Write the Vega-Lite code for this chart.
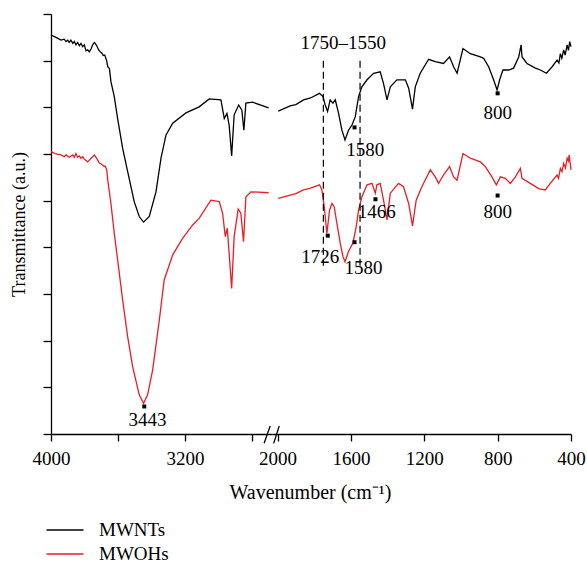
{
  "$schema": "https://vega.github.io/schema/vega-lite/v6.json",
  "padding": {"left": 10, "top": 13, "right": 2, "bottom": 2},
  "background": "white",
  "bounds": "flush",
  "config": {
    "view": {"stroke": null},
    "font": "Liberation Serif",
    "axis": {"domainColor": "black", "tickColor": "black", "domainWidth": 1.3, "tickWidth": 1.3, "labelFont": "Liberation Serif", "titleFont": "Liberation Serif", "labelFontSize": 19, "titleFontSize": 19, "titleFontWeight": "normal", "labelColor": "black", "titleColor": "black", "grid": false, "labelFlush": false},
    "legend": {"labelFont": "Liberation Serif", "labelFontSize": 19, "labelColor": "black"}
  },
  "datasets": {
    "left": [
      {"s":"MWNTs","w":4000,"v":8.55},{"s":"MWNTs","w":3970,"v":8.50},{"s":"MWNTs","w":3940,"v":8.44},{"s":"MWNTs","w":3921,"v":8.46},{"s":"MWNTs","w":3910,"v":8.41},{"s":"MWNTs","w":3900,"v":8.44},{"s":"MWNTs","w":3891,"v":8.39},{"s":"MWNTs","w":3881,"v":8.44},{"s":"MWNTs","w":3870,"v":8.37},{"s":"MWNTs","w":3861,"v":8.41},{"s":"MWNTs","w":3851,"v":8.34},{"s":"MWNTs","w":3841,"v":8.39},{"s":"MWNTs","w":3831,"v":8.32},{"s":"MWNTs","w":3821,"v":8.37},{"s":"MWNTs","w":3811,"v":8.30},{"s":"MWNTs","w":3801,"v":8.34},{"s":"MWNTs","w":3791,"v":8.21},{"s":"MWNTs","w":3781,"v":8.23},{"s":"MWNTs","w":3771,"v":8.19},{"s":"MWNTs","w":3761,"v":8.25},{"s":"MWNTs","w":3751,"v":8.34},{"s":"MWNTs","w":3741,"v":8.39},{"s":"MWNTs","w":3736,"v":8.37},{"s":"MWNTs","w":3727,"v":8.32},{"s":"MWNTs","w":3715,"v":8.23},{"s":"MWNTs","w":3706,"v":8.19},{"s":"MWNTs","w":3696,"v":8.16},{"s":"MWNTs","w":3688,"v":8.11},{"s":"MWNTs","w":3679,"v":8.12},{"s":"MWNTs","w":3672,"v":8.05},{"s":"MWNTs","w":3667,"v":7.99},{"s":"MWNTs","w":3661,"v":7.87},{"s":"MWNTs","w":3651,"v":7.83},{"s":"MWNTs","w":3642,"v":7.55},{"s":"MWNTs","w":3622,"v":7.23},{"s":"MWNTs","w":3602,"v":6.76},{"s":"MWNTs","w":3572,"v":6.12},{"s":"MWNTs","w":3542,"v":5.62},{"s":"MWNTs","w":3503,"v":4.98},{"s":"MWNTs","w":3473,"v":4.66},{"s":"MWNTs","w":3447,"v":4.54},{"s":"MWNTs","w":3413,"v":4.66},{"s":"MWNTs","w":3373,"v":5.19},{"s":"MWNTs","w":3343,"v":5.91},{"s":"MWNTs","w":3313,"v":6.41},{"s":"MWNTs","w":3273,"v":6.66},{"s":"MWNTs","w":3194,"v":6.88},{"s":"MWNTs","w":3115,"v":7.01},{"s":"MWNTs","w":3055,"v":7.18},{"s":"MWNTs","w":2985,"v":7.16},{"s":"MWNTs","w":2965,"v":6.76},{"s":"MWNTs","w":2949,"v":6.87},{"s":"MWNTs","w":2936,"v":6.62},{"s":"MWNTs","w":2921,"v":5.96},{"s":"MWNTs","w":2906,"v":6.84},{"s":"MWNTs","w":2879,"v":7.05},{"s":"MWNTs","w":2860,"v":6.94},{"s":"MWNTs","w":2848,"v":6.51},{"s":"MWNTs","w":2836,"v":7.09},{"s":"MWNTs","w":2796,"v":7.11},{"s":"MWNTs","w":2700,"v":6.99},
      {"s":"MWOHs","w":4000,"v":6.05},{"s":"MWOHs","w":3970,"v":6.00},{"s":"MWOHs","w":3940,"v":5.98},{"s":"MWOHs","w":3921,"v":5.94},{"s":"MWOHs","w":3910,"v":5.98},{"s":"MWOHs","w":3891,"v":5.93},{"s":"MWOHs","w":3870,"v":5.98},{"s":"MWOHs","w":3861,"v":5.93},{"s":"MWOHs","w":3851,"v":6.01},{"s":"MWOHs","w":3841,"v":5.93},{"s":"MWOHs","w":3831,"v":5.96},{"s":"MWOHs","w":3821,"v":5.91},{"s":"MWOHs","w":3811,"v":5.94},{"s":"MWOHs","w":3801,"v":5.89},{"s":"MWOHs","w":3791,"v":5.86},{"s":"MWOHs","w":3781,"v":5.83},{"s":"MWOHs","w":3771,"v":5.87},{"s":"MWOHs","w":3761,"v":5.91},{"s":"MWOHs","w":3751,"v":5.94},{"s":"MWOHs","w":3741,"v":5.98},{"s":"MWOHs","w":3731,"v":5.93},{"s":"MWOHs","w":3721,"v":5.87},{"s":"MWOHs","w":3712,"v":5.81},{"s":"MWOHs","w":3702,"v":5.79},{"s":"MWOHs","w":3691,"v":5.76},{"s":"MWOHs","w":3682,"v":5.73},{"s":"MWOHs","w":3676,"v":5.74},{"s":"MWOHs","w":3667,"v":5.66},{"s":"MWOHs","w":3661,"v":5.44},{"s":"MWOHs","w":3642,"v":4.94},{"s":"MWOHs","w":3622,"v":4.30},{"s":"MWOHs","w":3602,"v":3.73},{"s":"MWOHs","w":3572,"v":2.87},{"s":"MWOHs","w":3542,"v":2.08},{"s":"MWOHs","w":3512,"v":1.44},{"s":"MWOHs","w":3473,"v":0.84},{"s":"MWOHs","w":3447,"v":0.66},{"s":"MWOHs","w":3423,"v":0.84},{"s":"MWOHs","w":3393,"v":1.37},{"s":"MWOHs","w":3353,"v":2.44},{"s":"MWOHs","w":3324,"v":3.30},{"s":"MWOHs","w":3273,"v":3.84},{"s":"MWOHs","w":3214,"v":4.19},{"s":"MWOHs","w":3154,"v":4.48},{"s":"MWOHs","w":3115,"v":4.62},{"s":"MWOHs","w":3045,"v":5.01},{"s":"MWOHs","w":2995,"v":4.98},{"s":"MWOHs","w":2975,"v":4.73},{"s":"MWOHs","w":2959,"v":4.23},{"s":"MWOHs","w":2947,"v":4.41},{"s":"MWOHs","w":2936,"v":3.87},{"s":"MWOHs","w":2921,"v":3.12},{"s":"MWOHs","w":2906,"v":4.23},{"s":"MWOHs","w":2882,"v":4.82},{"s":"MWOHs","w":2866,"v":4.73},{"s":"MWOHs","w":2850,"v":4.12},{"s":"MWOHs","w":2836,"v":5.08},{"s":"MWOHs","w":2806,"v":5.19},{"s":"MWOHs","w":2700,"v":5.17}
    ],
    "right": [
      {"s":"MWNTs","w":1996,"v":6.92},{"s":"MWNTs","w":1931,"v":7.03},{"s":"MWNTs","w":1900,"v":7.06},{"s":"MWNTs","w":1858,"v":7.16},{"s":"MWNTs","w":1820,"v":7.20},{"s":"MWNTs","w":1771,"v":7.30},{"s":"MWNTs","w":1752,"v":7.23},{"s":"MWNTs","w":1740,"v":7.05},{"s":"MWNTs","w":1727,"v":6.91},{"s":"MWNTs","w":1713,"v":7.16},{"s":"MWNTs","w":1698,"v":7.09},{"s":"MWNTs","w":1685,"v":7.16},{"s":"MWNTs","w":1667,"v":6.87},{"s":"MWNTs","w":1649,"v":6.51},{"s":"MWNTs","w":1632,"v":6.30},{"s":"MWNTs","w":1613,"v":6.51},{"s":"MWNTs","w":1594,"v":6.62},{"s":"MWNTs","w":1576,"v":6.80},{"s":"MWNTs","w":1558,"v":7.23},{"s":"MWNTs","w":1540,"v":7.44},{"s":"MWNTs","w":1512,"v":7.59},{"s":"MWNTs","w":1476,"v":7.73},{"s":"MWNTs","w":1440,"v":7.76},{"s":"MWNTs","w":1422,"v":7.51},{"s":"MWNTs","w":1403,"v":7.16},{"s":"MWNTs","w":1385,"v":7.44},{"s":"MWNTs","w":1349,"v":7.59},{"s":"MWNTs","w":1303,"v":7.59},{"s":"MWNTs","w":1285,"v":7.41},{"s":"MWNTs","w":1264,"v":6.96},{"s":"MWNTs","w":1249,"v":7.44},{"s":"MWNTs","w":1222,"v":7.73},{"s":"MWNTs","w":1176,"v":8.03},{"s":"MWNTs","w":1140,"v":7.98},{"s":"MWNTs","w":1095,"v":7.94},{"s":"MWNTs","w":1062,"v":8.08},{"s":"MWNTs","w":1040,"v":7.87},{"s":"MWNTs","w":1021,"v":7.73},{"s":"MWNTs","w":989,"v":8.26},{"s":"MWNTs","w":949,"v":8.15},{"s":"MWNTs","w":894,"v":8.08},{"s":"MWNTs","w":876,"v":8.05},{"s":"MWNTs","w":849,"v":7.87},{"s":"MWNTs","w":822,"v":7.59},{"s":"MWNTs","w":803,"v":7.37},{"s":"MWNTs","w":789,"v":7.59},{"s":"MWNTs","w":771,"v":7.80},{"s":"MWNTs","w":740,"v":7.80},{"s":"MWNTs","w":713,"v":7.84},{"s":"MWNTs","w":685,"v":8.08},{"s":"MWNTs","w":672,"v":8.34},{"s":"MWNTs","w":667,"v":8.08},{"s":"MWNTs","w":640,"v":7.94},{"s":"MWNTs","w":594,"v":7.84},{"s":"MWNTs","w":567,"v":7.80},{"s":"MWNTs","w":534,"v":7.73},{"s":"MWNTs","w":503,"v":7.87},{"s":"MWNTs","w":476,"v":8.01},{"s":"MWNTs","w":466,"v":7.95},{"s":"MWNTs","w":458,"v":8.15},{"s":"MWNTs","w":450,"v":8.05},{"s":"MWNTs","w":440,"v":8.23},{"s":"MWNTs","w":432,"v":8.12},{"s":"MWNTs","w":421,"v":8.34},{"s":"MWNTs","w":414,"v":8.22},{"s":"MWNTs","w":407,"v":8.41},{"s":"MWNTs","w":400,"v":8.30},
      {"s":"MWOHs","w":1996,"v":5.05},{"s":"MWOHs","w":1931,"v":5.12},{"s":"MWOHs","w":1900,"v":5.15},{"s":"MWOHs","w":1858,"v":5.23},{"s":"MWOHs","w":1820,"v":5.27},{"s":"MWOHs","w":1771,"v":5.34},{"s":"MWOHs","w":1758,"v":5.23},{"s":"MWOHs","w":1745,"v":4.87},{"s":"MWOHs","w":1731,"v":4.30},{"s":"MWOHs","w":1716,"v":4.80},{"s":"MWOHs","w":1703,"v":4.94},{"s":"MWOHs","w":1691,"v":4.87},{"s":"MWOHs","w":1676,"v":4.51},{"s":"MWOHs","w":1658,"v":4.09},{"s":"MWOHs","w":1643,"v":3.80},{"s":"MWOHs","w":1632,"v":3.69},{"s":"MWOHs","w":1613,"v":3.91},{"s":"MWOHs","w":1589,"v":4.09},{"s":"MWOHs","w":1571,"v":4.44},{"s":"MWOHs","w":1558,"v":4.80},{"s":"MWOHs","w":1540,"v":5.08},{"s":"MWOHs","w":1512,"v":5.34},{"s":"MWOHs","w":1485,"v":5.37},{"s":"MWOHs","w":1467,"v":5.16},{"s":"MWOHs","w":1458,"v":5.34},{"s":"MWOHs","w":1440,"v":5.37},{"s":"MWOHs","w":1422,"v":5.01},{"s":"MWOHs","w":1403,"v":4.59},{"s":"MWOHs","w":1385,"v":5.16},{"s":"MWOHs","w":1340,"v":5.37},{"s":"MWOHs","w":1313,"v":5.30},{"s":"MWOHs","w":1285,"v":4.94},{"s":"MWOHs","w":1264,"v":4.46},{"s":"MWOHs","w":1244,"v":5.01},{"s":"MWOHs","w":1213,"v":5.30},{"s":"MWOHs","w":1167,"v":5.66},{"s":"MWOHs","w":1140,"v":5.51},{"s":"MWOHs","w":1122,"v":5.37},{"s":"MWOHs","w":1095,"v":5.55},{"s":"MWOHs","w":1062,"v":5.73},{"s":"MWOHs","w":1040,"v":5.51},{"s":"MWOHs","w":1021,"v":5.44},{"s":"MWOHs","w":989,"v":6.01},{"s":"MWOHs","w":949,"v":5.91},{"s":"MWOHs","w":894,"v":5.83},{"s":"MWOHs","w":867,"v":5.73},{"s":"MWOHs","w":831,"v":5.51},{"s":"MWOHs","w":807,"v":5.34},{"s":"MWOHs","w":785,"v":5.51},{"s":"MWOHs","w":758,"v":5.48},{"s":"MWOHs","w":731,"v":5.37},{"s":"MWOHs","w":703,"v":5.51},{"s":"MWOHs","w":676,"v":5.69},{"s":"MWOHs","w":667,"v":5.48},{"s":"MWOHs","w":622,"v":5.37},{"s":"MWOHs","w":576,"v":5.26},{"s":"MWOHs","w":540,"v":5.23},{"s":"MWOHs","w":513,"v":5.37},{"s":"MWOHs","w":476,"v":5.55},{"s":"MWOHs","w":468,"v":5.48},{"s":"MWOHs","w":458,"v":5.69},{"s":"MWOHs","w":449,"v":5.62},{"s":"MWOHs","w":440,"v":5.80},{"s":"MWOHs","w":430,"v":5.70},{"s":"MWOHs","w":421,"v":5.91},{"s":"MWOHs","w":414,"v":5.85},{"s":"MWOHs","w":410,"v":5.98},{"s":"MWOHs","w":400,"v":5.66}
    ],
    "leftMarks": [{"w":3443,"v":0.59}],
    "leftLabels": [{"w":3423,"v":0.30,"t":"3443"}],
    "breaks": [{"w":2727,"v":-0.2,"w2":2691,"v2":0.17},{"w":2670,"v":-0.2,"w2":2637,"v2":0.17}],
    "rightMarks": [{"w":1580,"v":6.57},{"w":800,"v":7.30},{"w":1726,"v":4.25},{"w":1580,"v":4.11},{"w":1466,"v":5.03},{"w":800,"v":5.11}],
    "rightLabels": [{"w":1642,"v":8.38,"t":"1750–1550"},{"w":1522,"v":6.09,"t":"1580"},{"w":800,"v":6.87,"t":"800"},{"w":1767,"v":3.80,"t":"1726"},{"w":1531,"v":3.55,"t":"1580"},{"w":1459,"v":4.76,"t":"1466"},{"w":800,"v":4.76,"t":"800"}],
    "dash": [{"w":1750,"top":8.0,"bot":3.57},{"w":1550,"top":8.0,"bot":3.57}]
  },
  "spacing": 0,
  "resolve": {"scale": {"x": "independent", "color": "shared"}, "axis": {"x": "independent"}},
  "hconcat": [
    {
      "width": 221,
      "height": 420,
      "layer": [
        {
          "data": {"name": "left"},
          "mark": {"type": "line", "strokeWidth": 1.3},
          "encoding": {
            "x": {"field": "w", "type": "quantitative", "scale": {"domain": [2680, 4000], "reverse": true, "nice": false, "zero": false},
                  "axis": {"values": [4000, 3600, 3200, 2800], "labelExpr": "datum.value % 800 == 0 ? datum.label : ''", "tickSize": 7, "labelPadding": 8, "title": null, "format": "d"}},
            "y": {"field": "v", "type": "quantitative", "scale": {"domain": [0, 9], "nice": false, "zero": false},
                  "axis": {"values": [0,1,2,3,4,5,6,7,8,9], "labels": false, "tickSize": 8, "title": "Transmittance (a.u.)", "titleFontSize": 18, "titlePadding": 14}},
            "color": {"field": "s", "type": "nominal", "scale": {"domain": ["MWNTs", "MWOHs"], "range": ["#000000", "#ed1c24"]},
                      "legend": {"orient": "none", "legendX": 4, "legendY": 506, "title": null, "symbolType": "M-2,0H2", "symbolSize": 342, "symbolStrokeWidth": 1.5, "labelOffset": 24, "rowPadding": 4, "padding": 0}}
          }
        },
        {
          "data": {"name": "leftMarks"},
          "mark": {"type": "point", "shape": "square", "filled": true, "size": 16, "color": "black", "opacity": 1},
          "encoding": {"x": {"field": "w", "type": "quantitative"}, "y": {"field": "v", "type": "quantitative"}}
        },
        {
          "data": {"name": "leftLabels"},
          "mark": {"type": "text", "font": "Liberation Serif", "fontSize": 19, "color": "black", "align": "center", "baseline": "middle"},
          "encoding": {"x": {"field": "w", "type": "quantitative"}, "y": {"field": "v", "type": "quantitative"}, "text": {"field": "t"}}
        },
        {
          "data": {"name": "breaks"},
          "mark": {"type": "rule", "color": "black", "strokeWidth": 1.3},
          "encoding": {"x": {"field": "w", "type": "quantitative"}, "y": {"field": "v", "type": "quantitative"}, "x2": {"field": "w2"}, "y2": {"field": "v2"}}
        }
      ]
    },
    {
      "width": 299,
      "height": 420,
      "layer": [
        {
          "data": {"name": "right"},
          "mark": {"type": "line", "strokeWidth": 1.3},
          "encoding": {
            "x": {"field": "w", "type": "quantitative", "scale": {"domain": [400, 2030], "reverse": true, "nice": false, "zero": false},
                  "axis": {"values": [2000, 1800, 1600, 1400, 1200, 1000, 800, 600, 400], "labelExpr": "datum.value % 400 == 0 ? datum.label : ''", "tickSize": 7, "labelPadding": 8, "title": "Wavenumber (cm⁻¹)", "titleFontSize": 20, "titleX": 38, "titleAlign": "center", "titlePadding": 14, "format": "d"}},
            "y": {"field": "v", "type": "quantitative", "scale": {"domain": [0, 9], "nice": false, "zero": false}, "axis": null},
            "color": {"field": "s", "type": "nominal", "scale": {"domain": ["MWNTs", "MWOHs"], "range": ["#000000", "#ed1c24"]},
                      "legend": {"orient": "none", "legendX": 4, "legendY": 506, "title": null, "symbolType": "M-2,0H2", "symbolSize": 342, "symbolStrokeWidth": 1.5, "labelOffset": 24, "rowPadding": 4, "padding": 0}}
          }
        },
        {
          "data": {"name": "dash"},
          "mark": {"type": "rule", "color": "black", "strokeWidth": 1.2, "strokeDash": [7, 4]},
          "encoding": {"x": {"field": "w", "type": "quantitative"}, "y": {"field": "top", "type": "quantitative"}, "y2": {"field": "bot"}}
        },
        {
          "data": {"name": "rightMarks"},
          "mark": {"type": "point", "shape": "square", "filled": true, "size": 16, "color": "black", "opacity": 1},
          "encoding": {"x": {"field": "w", "type": "quantitative"}, "y": {"field": "v", "type": "quantitative"}}
        },
        {
          "data": {"name": "rightLabels"},
          "mark": {"type": "text", "font": "Liberation Serif", "fontSize": 19, "color": "black", "align": "center", "baseline": "middle"},
          "encoding": {"x": {"field": "w", "type": "quantitative"}, "y": {"field": "v", "type": "quantitative"}, "text": {"field": "t"}}
        }
      ]
    }
  ]
}
